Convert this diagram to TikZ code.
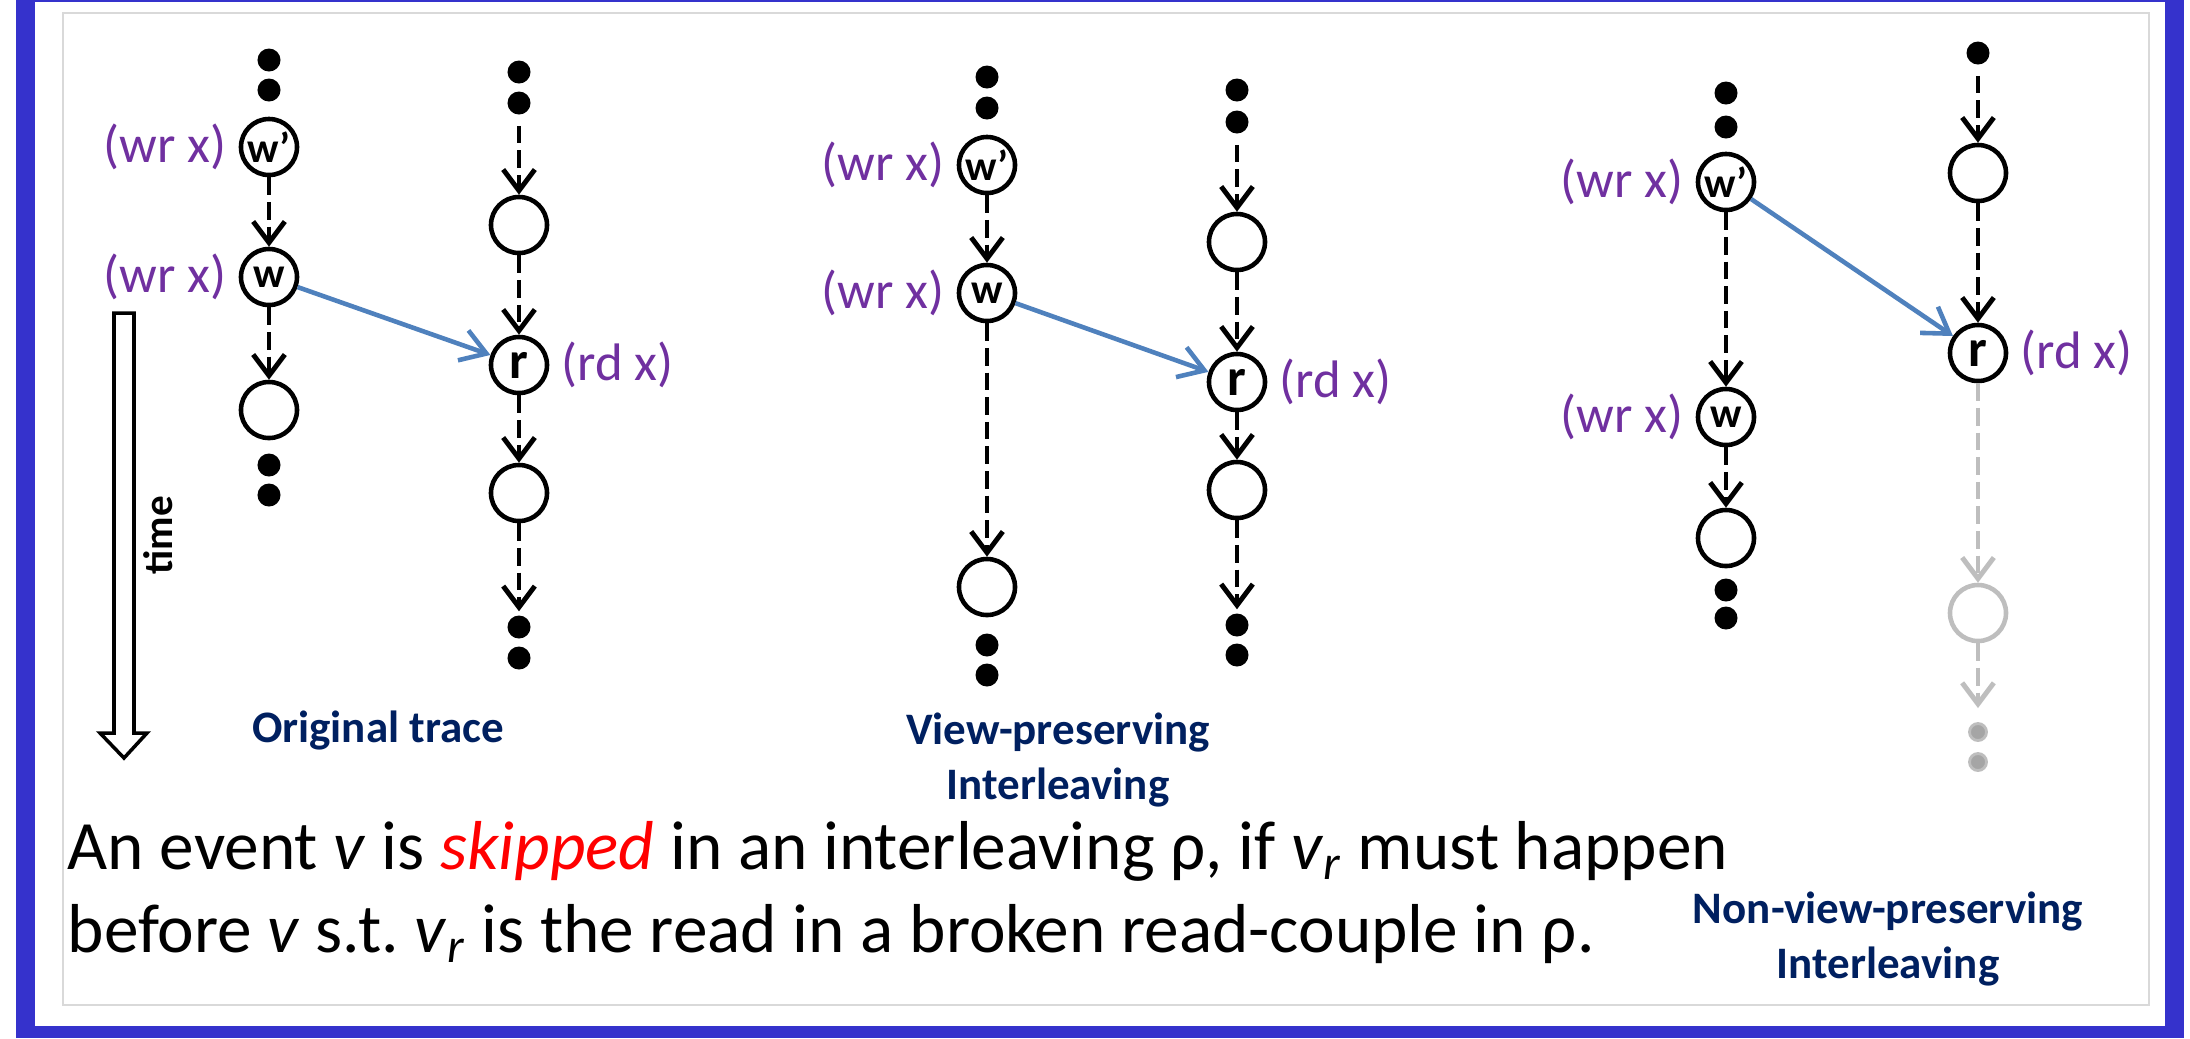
\documentclass[tikz,border=0pt]{standalone}
\usepackage{fontspec}
\setmainfont{Carlito}
\usetikzlibrary{arrows.meta, positioning}
\definecolor{frameblue}{RGB}{53,50,204}
\definecolor{edgeblue}{RGB}{79,129,189}
\definecolor{lblpurple}{RGB}{112,48,160}
\definecolor{capnavy}{RGB}{0,32,96}
\definecolor{skipred}{RGB}{255,0,0}
\definecolor{fadegray}{RGB}{190,190,190}
\definecolor{dotgray}{RGB}{165,165,165}
\tikzset{
  event/.style={circle, draw=black, fill=white, line width=1.3pt,
    minimum size=0.56cm, inner sep=0pt,
    font=\fontsize{12pt}{13pt}\selectfont\bfseries},
  readev/.style={event, font=\fontsize{15pt}{16pt}\selectfont\bfseries},
  ghost/.style={event, draw=fadegray},
  tick/.style={circle, fill=black, minimum size=0.23cm, inner sep=0pt},
  ghosttick/.style={circle, fill=dotgray, draw=fadegray, line width=0.8pt,
    minimum size=0.17cm, inner sep=0pt},
  lbl/.style={font=\fontsize{15pt}{16pt}\selectfont, text=lblpurple, inner sep=1pt},
  caption/.style={font=\fontsize{12.8pt}{15.6pt}\selectfont\bfseries,
    text=capnavy, align=center, inner sep=0pt},
  deftext/.style={font=\fontsize{19.7pt}{23.6pt}\selectfont, inner sep=0pt, anchor=base west},
  po/.style={line width=1.4pt, dash pattern=on 5pt off 2pt,
    -{Straight Barb[length=6pt, width=9pt]}},
  pofade/.style={po, draw=fadegray},
  rf/.style={line width=1.3pt, draw=edgeblue, -{Straight Barb[length=7pt, width=9pt]}}
}

\begin{document}
\begin{tikzpicture}[x=0.01cm, y=-0.01cm]
  \useasboundingbox (0,0) rectangle (2190,1038);
  % Frame
  \fill[frameblue] (16,0) rectangle (2184,1038);
  \fill[white] (35,2) rectangle (2165,1026);
  \draw[black!15, line width=0.4pt] (63,13) rectangle (2149,1005);

  % Time arrow
  \draw[line width=1pt, fill=white] (114,313) -- (134,313) -- (134,733) -- (147,733)
    -- (124,758) -- (100,733) -- (114,733) -- cycle;
  \node[font=\fontsize{11.7pt}{13pt}\selectfont\bfseries, rotate=90] (timelbl) at (158,535) {time};

  % Original trace, thread 1
  \node[tick] (t1a) at (269,60) {};
  \node[tick] (t1b) at (269,90) {};
  \node[event] (w1p) at (269,147) {w’};
  \node[event] (w1) at (269,277) {w};
  \node[event] (a1) at (269,410) {};
  \node[tick] (t1c) at (269,465) {};
  \node[tick] (t1d) at (269,495) {};
  \node[lbl, left=0.08cm of w1p] {(wr x)};
  \node[lbl, left=0.08cm of w1] {(wr x)};
  % Original trace, thread 2
  \node[tick] (s1a) at (519,72) {};
  \node[tick] (s1b) at (519,103) {};
  \node[event] (b1) at (519,225) {};
  \node[readev] (r1) at (519,365) {r};
  \node[event] (c1) at (519,493) {};
  \node[tick] (s1c) at (519,627) {};
  \node[tick] (s1d) at (519,658) {};
  \node[lbl, right=0.08cm of r1] {(rd x)};

  \draw[po] (w1p) -- (w1);
  \draw[po] (w1) -- (a1);
  \draw[po, shorten <=3pt] (s1b) -- (b1);
  \draw[po] (b1) -- (r1);
  \draw[po] (r1) -- (c1);
  \draw[po, shorten >=1pt] (c1) -- (s1c);
  \draw[rf] (w1) -- (r1);
  \node[caption, anchor=base] (cap1) at (378,742) {Original trace};

  % View-preserving interleaving
  \node[tick] (t2a) at (987,77) {};
  \node[tick] (t2b) at (987,108) {};
  \node[event] (w2p) at (987,165) {w’};
  \node[event] (w2) at (987,293) {w};
  \node[event] (a2) at (987,587) {};
  \node[tick] (t2c) at (987,645) {};
  \node[tick] (t2d) at (987,675) {};
  \node[lbl, left=0.08cm of w2p] {(wr x)};
  \node[lbl, left=0.08cm of w2] {(wr x)};
  \node[tick] (s2a) at (1237,90) {};
  \node[tick] (s2b) at (1237,122) {};
  \node[event] (b2) at (1237,242) {};
  \node[readev] (r2) at (1237,382) {r};
  \node[event] (c2) at (1237,490) {};
  \node[tick] (s2c) at (1237,625) {};
  \node[tick] (s2d) at (1237,655) {};
  \node[lbl, right=0.08cm of r2] {(rd x)};

  \draw[po] (w2p) -- (w2);
  \draw[po] (w2) -- (a2);
  \draw[po, shorten <=3pt] (s2b) -- (b2);
  \draw[po] (b2) -- (r2);
  \draw[po] (r2) -- (c2);
  \draw[po, shorten >=1pt] (c2) -- (s2c);
  \draw[rf] (w2) -- (r2);
  \node[caption] (cap2) at (1058,760) {View-preserving\\Interleaving};

  % Non-view-preserving interleaving
  \node[tick] (t3a) at (1726,93) {};
  \node[tick] (t3b) at (1726,127) {};
  \node[event] (w3p) at (1726,182) {w’};
  \node[event] (w3) at (1726,417) {w};
  \node[event] (a3) at (1726,538) {};
  \node[tick] (t3c) at (1726,590) {};
  \node[tick] (t3d) at (1726,618) {};
  \node[lbl, left=0.08cm of w3p] {(wr x)};
  \node[lbl, left=0.08cm of w3] {(wr x)};
  \node[tick] (s3a) at (1978,53) {};
  \node[event] (b3) at (1978,173) {};
  \node[readev] (r3) at (1978,353) {r};
  \node[ghost] (g3) at (1978,613) {};
  \node[ghosttick] (s3c) at (1978,732) {};
  \node[ghosttick] (s3d) at (1978,762) {};
  \node[lbl, right=0.08cm of r3] {(rd x)};

  \draw[po] (w3p) -- (w3);
  \draw[po] (w3) -- (a3);
  \draw[po, shorten <=3pt] (s3a) -- (b3);
  \draw[po] (b3) -- (r3);
  \draw[pofade] (r3) -- (g3);
  \draw[pofade, shorten >=4pt] (g3) -- (s3c);
  \draw[rf] (w3p) -- (r3);
  \node[caption] (cap3) at (1888,939) {Non-view-preserving\\Interleaving};

  % Definition
  \node[deftext] (def1) at (67,869) {An event \textit{v} is \textcolor{skipred}{\textit{skipped}} in an interleaving ρ, if \textit{v}\textsubscript{\textit{r}} must happen};
  \node[deftext] (def2) at (67,952) {before \textit{v} s.t.\ \textit{v}\textsubscript{\textit{r}} is the read in a broken read-couple in ρ.};
\end{tikzpicture}
\end{document}
